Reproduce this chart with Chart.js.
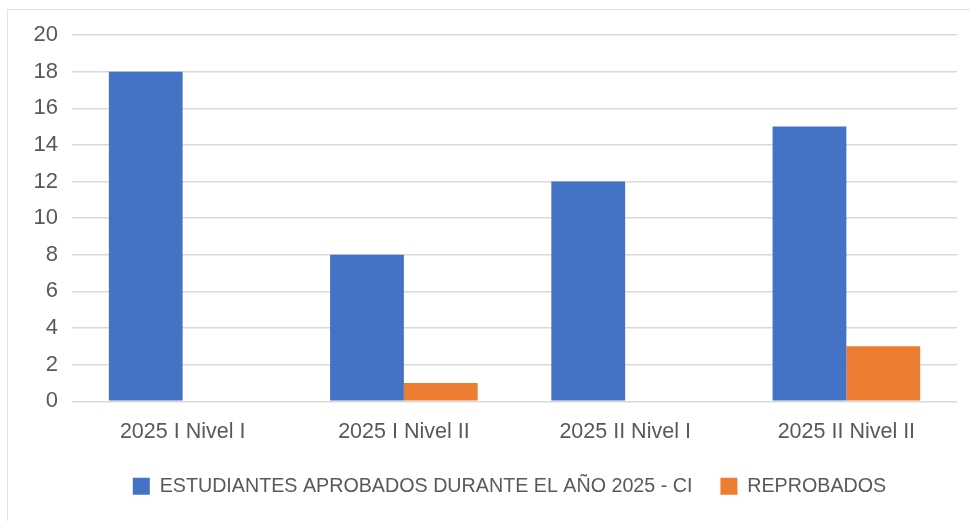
<!DOCTYPE html>
<html>
<head>
<meta charset="utf-8">
<script src="https://cdn.jsdelivr.net/npm/chart.js@4.4.1/dist/chart.umd.min.js"></script>
<style>
    html, body { margin: 0; padding: 0; background: #ffffff; }
    #frame {
        position: absolute; left: 7px; top: 9px; width: 980px; height: 530px;
        border: 1px solid #e3e3e3; box-sizing: border-box;
    }
    #wrap { position: absolute; left: 0; top: 0; width: 970px; height: 521px; }
</style>
</head>
<body>
<div id="frame"></div>
<div id="wrap"><canvas id="myChart" width="970" height="521"></canvas></div>
<script>
    // datos del grafico
    const categorias = ['2025 I Nivel I', '2025 I Nivel II', '2025 II Nivel I', '2025 II Nivel II'];
    const aprobados = [18, 8, 12, 15];
    const reprobados = [0, 1, 0, 3];
    const etiquetaAprobados = 'ESTUDIANTES APROBADOS DURANTE EL AÑO 2025 - CI';
    const etiquetaReprobados = 'REPROBADOS';

    // la leyenda del original esta un poco corrida a la derecha
    const moverLeyenda = {
        id: 'moverLeyenda',
        beforeDraw: function(chart) {
            if (chart.legend) {
                chart.legend.left += 31;
                chart.legend.right += 31;
            }
        }
    };

    window.addEventListener('DOMContentLoaded', function() {
        var ctx = document.getElementById('myChart');
        var myChart = new Chart(ctx, {
            type: 'bar',
            data: {
                labels: categorias,
                datasets: [{
                    label: etiquetaAprobados,
                    data: aprobados,
                    backgroundColor: '#4472C4',
                    borderWidth: 0
                }, {
                    label: etiquetaReprobados,
                    data: reprobados,
                    backgroundColor: '#ED7D31',
                    borderWidth: 0
                }]
            },
            options: {
                responsive: false,
                animation: false,
                datasets: {
                    bar: {
                        categoryPercentage: 0.667,
                        barPercentage: 1
                    }
                },
                layout: {
                    padding: { top: 35, right: 13, left: 0, bottom: 15 }
                },
                scales: {
                    x: {
                        grid: { display: false },
                        border: { display: false },
                        ticks: {
                            color: '#595959',
                            padding: 10,
                            font: { family: 'Liberation Sans', size: 21.5 }
                        },
                        afterFit: function(s) { s.height = 47; }
                    },
                    y: {
                        min: 0,
                        max: 20,
                        ticks: {
                            stepSize: 2,
                            color: '#595959',
                            padding: 14,
                            font: { family: 'Liberation Sans', size: 22 }
                        },
                        grid: {
                            color: '#d9d9d9',
                            lineWidth: 1.5,
                            drawTicks: false
                        },
                        border: { display: false },
                        afterFit: function(s) { s.width = 72; }
                    }
                },
                plugins: {
                    legend: {
                        position: 'bottom',
                        labels: {
                            boxWidth: 17,
                            boxHeight: 17,
                            padding: 28,
                            color: '#595959',
                            font: { family: 'Liberation Sans', size: 19.7 }
                        }
                    },
                    tooltip: { enabled: false }
                }
            },
            plugins: [moverLeyenda]
        });
    });
</script>
</body>
</html>
